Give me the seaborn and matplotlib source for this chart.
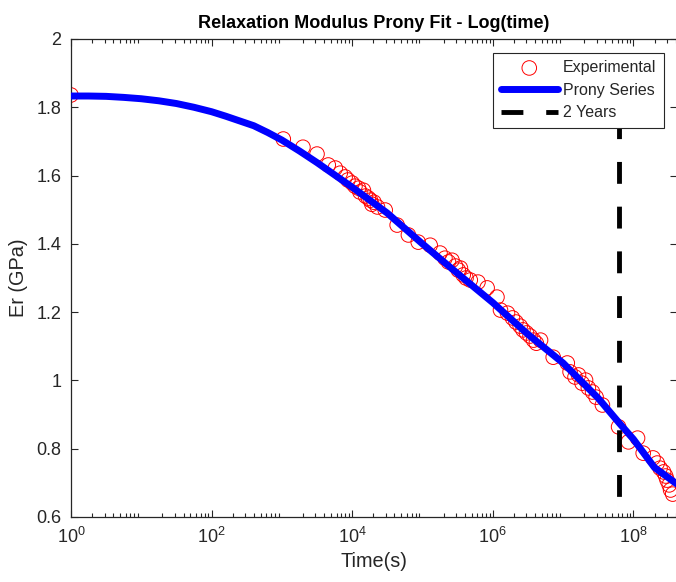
import numpy as np
import pandas as pd
import matplotlib
matplotlib.use("Agg")
import matplotlib.pyplot as plt
import seaborn as sns

# experimental relaxation modulus (time in s, Er in GPa)
exp_log_time = [0.00, 3.02, 3.30, 3.50, 3.66, 3.76, 3.83, 3.90, 3.94, 4.00,
                4.04, 4.09, 4.11, 4.16, 4.19, 4.23, 4.26, 4.28, 4.31, 4.36,
                4.47, 4.64, 4.80, 4.94, 5.11, 5.25, 5.32, 5.37, 5.42, 5.47,
                5.51, 5.54, 5.58, 5.62, 5.68, 5.79, 5.92, 6.06, 6.11, 6.21,
                6.28, 6.33, 6.39, 6.43, 6.48, 6.53, 6.58, 6.62, 6.68, 6.86,
                7.06, 7.10, 7.17, 7.22, 7.27, 7.32, 7.36, 7.42, 7.47, 7.56,
                7.79, 7.93, 8.06, 8.14, 8.28, 8.34, 8.38, 8.43, 8.46, 8.48,
                8.51, 8.53, 8.56]
exp_er = [1.836, 1.707, 1.683, 1.663, 1.631, 1.622, 1.607, 1.596, 1.587, 1.578,
          1.569, 1.563, 1.552, 1.557, 1.540, 1.534, 1.528, 1.516, 1.522, 1.508,
          1.499, 1.455, 1.426, 1.405, 1.396, 1.373, 1.358, 1.347, 1.352, 1.335,
          1.323, 1.329, 1.309, 1.300, 1.294, 1.288, 1.271, 1.244, 1.206, 1.197,
          1.183, 1.171, 1.159, 1.148, 1.139, 1.130, 1.118, 1.109, 1.118, 1.068,
          1.051, 1.025, 1.010, 1.016, 0.992, 1.001, 0.978, 0.966, 0.951, 0.928,
          0.864, 0.820, 0.831, 0.787, 0.773, 0.758, 0.743, 0.732, 0.720, 0.708,
          0.694, 0.679, 0.667]

# prony series fit
fit_log_time = [0.0, 0.25, 0.5, 0.75, 1.0, 1.25, 1.5, 1.75, 2.0, 2.2, 2.4, 2.6,
                2.8, 3.0, 3.25, 3.5, 3.75, 4.0, 4.5, 5.0, 5.5, 6.0, 6.5, 7.0,
                7.5, 7.8, 8.0, 8.3, 8.63]
fit_er = [1.833, 1.833, 1.832, 1.829, 1.825, 1.819, 1.811, 1.800, 1.787, 1.774,
          1.760, 1.746, 1.726, 1.704, 1.672, 1.638, 1.602, 1.566, 1.490, 1.400,
          1.313, 1.228, 1.135, 1.051, 0.948, 0.875, 0.828, 0.745, 0.695]

# 2 year marker, drawn from the top down
two_years = 2 * 365 * 24 * 3600
marker_er = [1.903, 0.6]

exp_df = pd.DataFrame({"time": [10 ** v for v in exp_log_time], "er": exp_er})
fit_df = pd.DataFrame({"time": [10 ** v for v in fit_log_time], "er": fit_er})

sns.set_theme(style="white")
plt.rcParams["font.family"] = ["Liberation Sans", "DejaVu Sans"]
plt.rcParams["mathtext.fontset"] = "custom"
plt.rcParams["mathtext.rm"] = "Liberation Sans"
plt.rcParams["mathtext.it"] = "Liberation Sans:italic"
plt.rcParams["mathtext.bf"] = "Liberation Sans:bold"

fig = plt.figure(figsize=(6.76, 5.82), dpi=100)
ax = fig.add_axes([0.105, 0.1117, 0.897, 0.8213])

sns.scatterplot(data=exp_df, x="time", y="er", ax=ax, marker="o", s=110,
                label="Experimental", zorder=2)
coll = ax.collections[-1]
coll.set_facecolor("none")
coll.set_edgecolor("red")
coll.set_linewidth(0.7)

sns.lineplot(data=fit_df, x="time", y="er", ax=ax, color="blue", lw=5,
             label="Prony Series", zorder=3)
ax.plot([two_years, two_years], marker_er, color="black", lw=3.5,
        linestyle=(0, (4.5, 4.7)), solid_capstyle="butt",
        dash_capstyle="butt", label="2 Years", zorder=4)

ax.set_xscale("log")
ax.set_xlim(1, 10 ** 8.626)
ax.set_ylim(0.6, 2.0)
ax.set_yticks([0.6, 0.8, 1.0, 1.2, 1.4, 1.6, 1.8, 2.0])
ax.set_yticklabels(["0.6", "0.8", "1", "1.2", "1.4", "1.6", "1.8", "2"])
ax.set_xticks([1e0, 1e2, 1e4, 1e6, 1e8])

ax.tick_params(which="both", direction="in", top=True, right=True, bottom=True,
               left=True, colors="#262626", labelsize=13, width=0.8)
ax.tick_params(which="major", length=5, pad=7)
ax.tick_params(which="minor", length=3)
ax.tick_params(axis="y", which="minor", left=False, right=False)
ax.xaxis.set_tick_params(which="minor", bottom=True, top=True)
for sp in ax.spines.values():
    sp.set_color("#262626")
    sp.set_linewidth(0.9)

ax.set_xlabel("Time(s)", fontsize=14.3, color="#262626", labelpad=4)
ax.set_ylabel("Er (GPa)", fontsize=14.3, color="#262626", labelpad=6)
ax.set_title("Relaxation Modulus Prony Fit - Log(time)", fontsize=13,
             fontweight="bold", color="black", pad=8)

leg = ax.legend(loc="upper right", fontsize=11.5, frameon=True, fancybox=False,
                edgecolor="#262626", framealpha=1, borderaxespad=0.85,
                handlelength=3.6, handletextpad=0.3, labelspacing=0.475,
                borderpad=0.475)
leg.get_frame().set_linewidth(0.8)
leg.set_zorder(10)

fig.savefig("out.png", dpi=100)
